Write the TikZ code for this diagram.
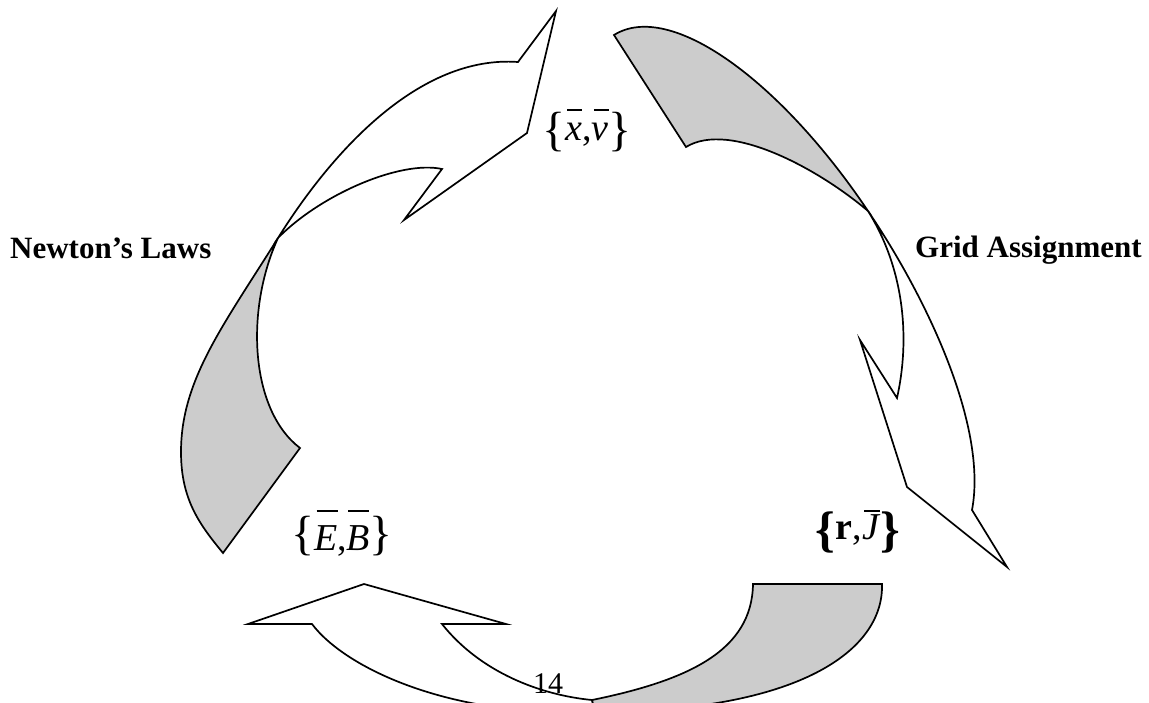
\documentclass[tikz,border=0pt]{standalone}
\usepackage{fontspec}
\setmainfont{Liberation Serif}
\definecolor{backgray}{RGB}{204,204,204}
\tikzset{
  arrowline/.style={draw=black, line width=1.7pt, line join=miter},
  frontface/.style={arrowline, fill=white},
  backface/.style={arrowline, fill=backgray},
  lbl/.style={inner sep=0pt, anchor=base},
  boldlabel/.style={inner sep=0pt, anchor=base west, font=\bfseries\fontsize{31}{36}\selectfont},
}
\newcommand{\ovr}[2]{{\setbox0=\hbox{#2}\rlap{\kern2pt\rule[#1]{\dimexpr\wd0-2pt\relax}{1.6pt}}\box0}}
\newcommand{\lbrc}[2]{\raisebox{#2}{\fontsize{#1}{#1}\selectfont\{}}
\newcommand{\rbrc}[2]{\raisebox{#2}{\fontsize{#1}{#1}\selectfont\}}}
\begin{document}
\begin{tikzpicture}[x=1pt,y=-1pt]
\useasboundingbox (0,0) rectangle (1149,702);
\clip (0,0) rectangle (1149,702);

% ---- top-left arrow (Newton's Laws) ----
\coordinate (tlP) at (278,238);
\draw[backface] (tlP) .. controls (223,326) and (181,380) .. (181,452)
  .. controls (181,500) and (200,525) .. (223,553) -- (300,448)
  .. controls (250,410) and (245,310) .. (tlP) -- cycle;
\draw[frontface] (556,11) -- (527,133) -- (404,220) -- (442,169)
  .. controls (400,160) and (320,195) .. (tlP)
  .. controls (333,150) and (420,55) .. (518,62) -- cycle;

% ---- right arrow (Grid Assignment) ----
\coordinate (rJ) at (868,211);
\draw[backface] (614,35) .. controls (670,0) and (780,80) .. (rJ)
  .. controls (820,170) and (730,120) .. (686,147) -- cycle;
\draw[frontface] (rJ) .. controls (925,295) and (988,425) .. (972,510)
  -- (1007,567) -- (907,487) -- (860,340) -- (897,398)
  .. controls (910,340) and (905,270) .. (rJ) -- cycle;

% ---- bottom arrow ----
\coordinate (bQ) at (592,700);
\coordinate (bB) at (595,712);
\draw[frontface] (248,624) -- (364,584) -- (506,624) -- (442,624)
  .. controls (480,672) and (540,695) .. (bQ) -- (bB)
  .. controls (450,718) and (345,668) .. (312,624) -- cycle;
\draw[backface] (753,584) -- (882,584) .. controls (884,650) and (800,712) .. (bB)
  -- (bQ) .. controls (690,680) and (752,650) .. (753,584) -- cycle;

% ---- labels ----
\node[boldlabel] (newton) at (10,258) {Newton’s Laws};
\node[boldlabel] (grid) at (915,257) {Grid Assignment};
\node[lbl] (xv) at (587,140) {\fontsize{38}{40}\selectfont\lbrc{48}{-5pt}\ovr{29pt}{\textit{x}},\ovr{29pt}{\textit{v}}\rbrc{48}{-5pt}};
\node[lbl] (eb) at (342,550) {\fontsize{38}{40}\selectfont\lbrc{48}{1pt}\ovr{38pt}{\textit{E}},\kern-1pt\ovr{38pt}{\textit{B}}\rbrc{48}{1pt}};
\node[lbl] (rj) at (858,539) {\fontsize{38}{40}\selectfont\raisebox{-7pt}{\fontsize{50}{50}\selectfont\bfseries\{}\textbf{r},\ovr{27pt}{\textit{J}}\raisebox{-7pt}{\fontsize{50}{50}\selectfont\bfseries\}}};
\node[lbl, anchor=base west, font=\fontsize{30}{34}\selectfont] (page) at (533,693) {14};
\end{tikzpicture}
\end{document}
